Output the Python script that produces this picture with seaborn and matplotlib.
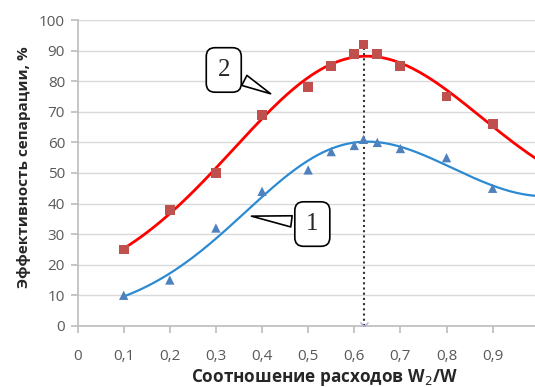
import numpy as np
import pandas as pd
import matplotlib
matplotlib.use("Agg")
import matplotlib.pyplot as plt
import seaborn as sns

x_vals = [0.1, 0.2, 0.3, 0.4, 0.5, 0.55, 0.6, 0.62, 0.65, 0.7, 0.8, 0.9]
red_vals = [25, 38, 50, 69, 78, 85, 89, 92, 89, 85, 75, 66]
blue_vals = [10, 15, 32, 44, 51, 57, 59, 61, 60, 58, 55, 45]
x_ticks = [0, 0.1, 0.2, 0.3, 0.4, 0.5, 0.6, 0.7, 0.8, 0.9]
x_ticklabels = ["0", "0,1", "0,2", "0,3", "0,4", "0,5", "0,6", "0,7", "0,8", "0,9"]
y_ticks = [0, 10, 20, 30, 40, 50, 60, 70, 80, 90, 100]
opt_x = 0.62
opt_top = 91

sns.set_theme(style="white")
plt.rcParams['font.family'] = ['Open Sans', 'DejaVu Sans']

fig = plt.figure(figsize=(5.35, 3.87), dpi=100)
ax = fig.add_axes([0.145, 0.158, 0.862, 0.79])

df = pd.DataFrame({"x": x_vals, "red": red_vals, "blue": blue_vals})

# trend lines: least-squares fit of log(values) with a 4th order polynomial
xs = np.linspace(0.1, 1.0, 200)
pr = np.polyfit(df["x"], np.log(df["red"]), 4)
pb = np.polyfit(df["x"], np.log(df["blue"]), 4)
fit = pd.DataFrame({"x": xs, "red": np.exp(np.polyval(pr, xs)),
                    "blue": np.exp(np.polyval(pb, xs))})

sns.lineplot(data=fit, x="x", y="red", color="#FF0000", lw=2, ax=ax)
sns.lineplot(data=fit, x="x", y="blue", color="#2B8AD2", lw=1.6, ax=ax)
sns.scatterplot(data=df, x="x", y="red", marker="s", color="#C0504D", s=50,
                edgecolor="none", ax=ax, zorder=5)
sns.scatterplot(data=df, x="x", y="blue", marker="^", color="#4F81BD", s=45,
                edgecolor="none", ax=ax, zorder=5)

ax.plot([opt_x, opt_x], [0, opt_top], color="#333333", ls=(0, (1, 1.5)), lw=1.5, zorder=4)
ax.plot([opt_x], [0], marker="x", color="#B4A7D6", ms=6, mew=1, zorder=6)

ax.set_xlim(0, 1.0)
ax.set_ylim(0, 100)
ax.set_xticks(x_ticks)
ax.set_xticklabels(x_ticklabels)
ax.set_yticks(y_ticks)
ax.yaxis.grid(True, color="#D9D9D9", lw=1)
ax.xaxis.grid(False)
for s in ["top", "right"]:
    ax.spines[s].set_visible(False)
ax.spines["left"].set_color("#BFBFBF")
ax.spines["bottom"].set_color("#BFBFBF")
ax.tick_params(axis="x", bottom=True, length=5, color="#BFBFBF", labelsize=11,
               labelcolor="#595959", pad=12)
ax.tick_params(axis="y", left=True, length=5, color="#BFBFBF", labelsize=11,
               labelcolor="#595959", pad=4)

ax.set_xlabel("Соотношение расходов W$_2$/W", fontsize=12.3, fontweight="bold",
              color="#262626", labelpad=2)
ax.set_ylabel("Эффективность сепарации, %", fontsize=11, fontweight="bold",
              color="#262626", labelpad=6)
ax.xaxis.label.set_x(0.536)
ax.yaxis.label.set_y(0.52)

bbox = dict(boxstyle="round,pad=0.45,rounding_size=0.35", fc="white", ec="black", lw=1.2)
ax.annotate("2", xy=(0.424, 75.5), xytext=(0.317, 83.7), fontsize=18, family="Liberation Serif",
            ha="center", va="center", bbox=bbox,
            arrowprops=dict(arrowstyle="wedge,tail_width=0.45,shrink_factor=0.5",
                            fc="white", ec="black", lw=1.2))
ax.annotate("1", xy=(0.371, 36), xytext=(0.509, 33.3), fontsize=18, family="Liberation Serif",
            ha="center", va="center", bbox=bbox,
            arrowprops=dict(arrowstyle="wedge,tail_width=0.45,shrink_factor=0.5",
                            fc="white", ec="black", lw=1.2))

fig.savefig("out.png", dpi=100)
